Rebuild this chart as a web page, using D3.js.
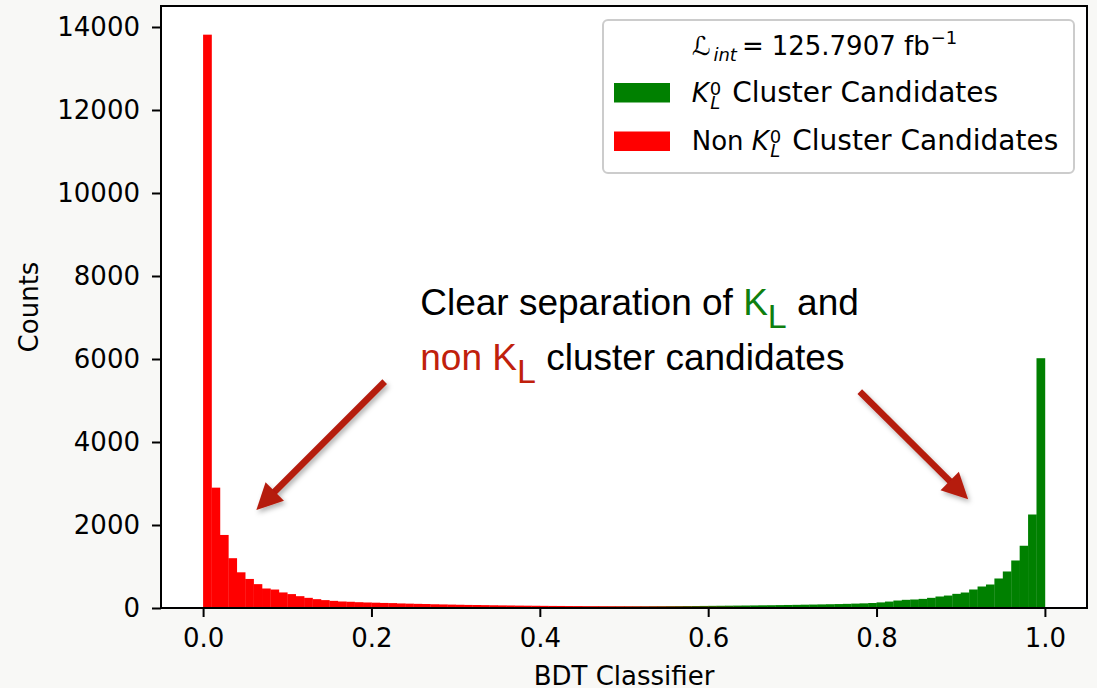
<!DOCTYPE html>
<html>
<head>
<meta charset="utf-8">
<script src="https://cdn.jsdelivr.net/npm/d3@7/dist/d3.min.js"></script>
<style>
  body { margin: 0; background: #f8f8f6; }
  svg { display: block; }
  text { font-family: 'DejaVu Sans', sans-serif; fill: #000; }
</style>
</head>
<body>
<svg></svg>
<script>
// histogram counts per 0.01 bin of the BDT output
const nonKL = [
  13815, 2900, 1760, 1200, 860, 700, 575, 470, 445, 375, 335, 285, 245, 213, 190, 172, 157, 150, 140, 133,
  128, 122, 118, 110, 105, 100, 96, 90, 86, 82, 78, 74, 72, 69, 66, 63, 61, 58, 56, 54,
  52, 50, 49, 47, 46, 44, 43, 42, 41, 40, 39, 38, 37, 36, 35, 34, 33, 32, 31, 30,
  29, 28, 27, 26, 25, 24, 24, 23, 22, 22, 21, 20, 20, 19, 18, 18, 17, 17, 16, 16,
  15, 15, 14, 14, 13, 13, 12, 12, 11, 11, 10, 10, 9, 9, 8, 8, 7, 7, 6, 6
]
const kl = [
  10, 8, 8, 9, 9, 10, 10, 10, 11, 11, 11, 12, 12, 12, 13, 13, 13, 14, 14, 14,
  15, 15, 16, 16, 17, 17, 18, 18, 19, 19, 20, 20, 21, 22, 22, 23, 24, 25, 25, 26,
  27, 28, 29, 30, 31, 32, 33, 34, 35, 36, 37, 38, 39, 41, 42, 44, 45, 47, 48, 50,
  52, 54, 56, 58, 60, 62, 65, 67, 70, 73, 76, 80, 83, 87, 91, 95, 100, 106, 112, 120,
  135, 155, 180, 197, 205, 220, 245, 277, 300, 341, 373, 446, 518, 566, 711, 880, 1145, 1500, 2253, 6019
]
const binWidth = 0.01
const xTicks = [0, 0.2, 0.4, 0.6, 0.8, 1.0]
const yTicks = [0, 2000, 4000, 6000, 8000, 10000, 12000, 14000]

const width = 1097
const height = 688
// plot box edges in pixels
const plotLeft = 161
const plotRight = 1087
const plotTop = 6
const plotBottom = 608

const svg = d3.select('svg')
let xScale
let yScale

function drawCanvas () {
  svg.attr('width', width).attr('height', height)
  svg.append('rect')
    .attr('width', width).attr('height', height)
    .attr('fill', '#f8f8f6')
  svg.append('rect')
    .attr('x', plotLeft).attr('y', plotTop)
    .attr('width', plotRight - plotLeft).attr('height', plotBottom - plotTop)
    .attr('fill', '#fff')
  const defs = svg.append('defs')
  defs.append('filter')
    .attr('id', 'shadow')
    .attr('x', '-30%').attr('y', '-30%').attr('width', '160%').attr('height', '160%')
    .append('feDropShadow')
    .attr('dx', 2).attr('dy', 3)
    .attr('stdDeviation', 2.5)
    .attr('flood-color', '#000')
    .attr('flood-opacity', 0.3)
}

function positionScales () {
  const nBins = nonKL.length
  const lo = 0
  const hi = nBins * binWidth
  const pad = (hi - lo) * 0.05
  xScale = d3.scaleLinear()
    .domain([lo - pad, hi + pad])
    .range([plotLeft, plotRight])
  const maxCount = d3.max([d3.max(nonKL), d3.max(kl)])
  yScale = d3.scaleLinear()
    .domain([0, maxCount * 1.05])
    .range([plotBottom, plotTop])
}

function drawBars (data, color) {
  svg.append('g')
    .selectAll('rect')
    .data(data)
    .enter()
    .append('rect')
    .attr('x', (d, i) => xScale(i * binWidth))
    .attr('width', (d, i) => xScale((i + 1) * binWidth) - xScale(i * binWidth) + 0.3)
    .attr('y', (d) => yScale(d))
    .attr('height', (d) => yScale(0) - yScale(d))
    .attr('fill', color)
}

function drawAxis () {
  const xAxis = d3.axisBottom(xScale)
    .tickValues(xTicks)
    .tickFormat(d3.format('.1f'))
    .tickSize(9)
    .tickPadding(12)
  const gx = svg.append('g')
    .attr('transform', 'translate(0, ' + plotBottom + ')')
    .call(xAxis)
  const yAxis = d3.axisLeft(yScale)
    .tickValues(yTicks)
    .tickFormat(d3.format('d'))
    .tickSize(9)
    .tickPadding(12)
  const gy = svg.append('g')
    .attr('transform', 'translate(' + plotLeft + ', 0)')
    .call(yAxis)
  for (const g of [gx, gy]) {
    g.select('.domain').remove()
    g.selectAll('line').attr('stroke', '#000').attr('stroke-width', 2)
    g.selectAll('text')
      .attr('font-size', 26)
      .attr('font-family', "'DejaVu Sans', sans-serif")
      .attr('fill', '#000')
  }
  // frame
  svg.append('rect')
    .attr('x', plotLeft).attr('y', plotTop)
    .attr('width', plotRight - plotLeft).attr('height', plotBottom - plotTop)
    .attr('fill', 'none')
    .attr('stroke', '#000')
    .attr('stroke-width', 2)

  svg.append('text')
    .attr('x', (plotLeft + plotRight) / 2)
    .attr('y', 685)
    .attr('text-anchor', 'middle')
    .attr('font-size', 26)
    .text('BDT Classifier')
  svg.append('text')
    .attr('transform', 'translate(38, ' + (plotTop + plotBottom) / 2 + ') rotate(-90)')
    .attr('text-anchor', 'middle')
    .attr('font-size', 26)
    .text('Counts')
}

function drawLegend () {
  const g = svg.append('g')
  g.append('rect')
    .attr('x', 603).attr('y', 20)
    .attr('width', 471).attr('height', 153)
    .attr('rx', 5)
    .attr('fill', '#fff').attr('fill-opacity', 0.8)
    .attr('stroke', '#cccccc').attr('stroke-width', 2)

  const lumi = g.append('text').attr('x', 691.7).attr('y', 55).attr('font-size', 26)
  lumi.append('tspan').text('ℒ')
  lumi.append('tspan').attr('font-size', 18).attr('font-style', 'italic').attr('dy', 6).attr('dx', 3).text('int')
  lumi.append('tspan').attr('dy', -6).attr('dx', 5).text('=')
  lumi.append('tspan').attr('dx', 8).text('125.7907 fb')
  lumi.append('tspan').attr('font-size', 18).attr('dy', -11).attr('dx', 1).text('−1')

  const entries = [
    { pre: '', color: '#008000', y: 101.5 },
    { pre: 'Non ', color: '#ff0000', y: 150 }
  ]
  entries.forEach((e) => {
    g.append('rect')
      .attr('x', 614).attr('y', e.y - 18.5)
      .attr('width', 56).attr('height', 19.5)
      .attr('fill', e.color)
    const t = g.append('text').attr('x', 691.7).attr('y', e.y).attr('font-size', 26)
    if (e.pre) t.append('tspan').text(e.pre)
    t.append('tspan').attr('font-style', 'italic').text('K')
    t.append('tspan').attr('font-size', 18).attr('dy', -7).attr('dx', 1).text('0')
    t.append('tspan').attr('font-size', 18).attr('font-style', 'italic').attr('dy', 14).attr('dx', -11).text('L')
    t.append('tspan').attr('font-size', 28).attr('dy', -7).attr('dx', 3).text(' Cluster Candidates')
  })
}

function drawArrow (from, to) {
  const x1 = xScale(from[0])
  const y1 = yScale(from[1])
  const x2 = xScale(to[0])
  const y2 = yScale(to[1])
  const len = Math.hypot(x2 - x1, y2 - y1)
  const ux = (x2 - x1) / len
  const uy = (y2 - y1) / len
  const headLen = 26
  const headHalf = 13
  const bx = x2 - ux * headLen
  const by = y2 - uy * headLen
  const g = svg.append('g').attr('filter', 'url(#shadow)')
  g.append('line')
    .attr('x1', x1).attr('y1', y1)
    .attr('x2', bx + ux * 4).attr('y2', by + uy * 4)
    .attr('stroke', '#b51a0a')
    .attr('stroke-width', 6.5)
  g.append('polygon')
    .attr('points', [
      [x2, y2],
      [bx - uy * headHalf, by + ux * headHalf],
      [bx + uy * headHalf, by - ux * headHalf]
    ].map((p) => p.join(',')).join(' '))
    .attr('fill', '#b51a0a')
}

function drawNote () {
  const font = "'Liberation Sans', Arial, sans-serif"
  const green = '#0f7f0f'
  const red = '#c0200c'
  const l1 = svg.append('text')
    .attr('x', xScale(0.258)).attr('y', yScale(7060))
    .style('font-family', font).attr('font-size', 37)
  l1.append('tspan').text('Clear separation of ')
  l1.append('tspan').style('fill', green).text('K')
  l1.append('tspan').style('fill', green).attr('font-size', 34).attr('dy', 13).text('L')
  l1.append('tspan').attr('dy', -13).text(' and')

  const l2 = svg.append('text')
    .attr('x', xScale(0.258)).attr('y', yScale(5735))
    .style('font-family', font).attr('font-size', 37)
  l2.append('tspan').style('fill', red).text('non K')
  l2.append('tspan').style('fill', red).attr('font-size', 34).attr('dy', 13).text('L')
  l2.append('tspan').attr('dy', -13).text(' cluster candidates')
}

drawCanvas()
positionScales()
drawBars(kl, '#008000')
drawBars(nonKL, '#ff0000')
drawAxis()
drawLegend()
drawArrow([0.2157, 5454], [0.0633, 2363])
drawArrow([0.7801, 5213], [0.9088, 2620])
drawNote()
</script>
</body>
</html>
